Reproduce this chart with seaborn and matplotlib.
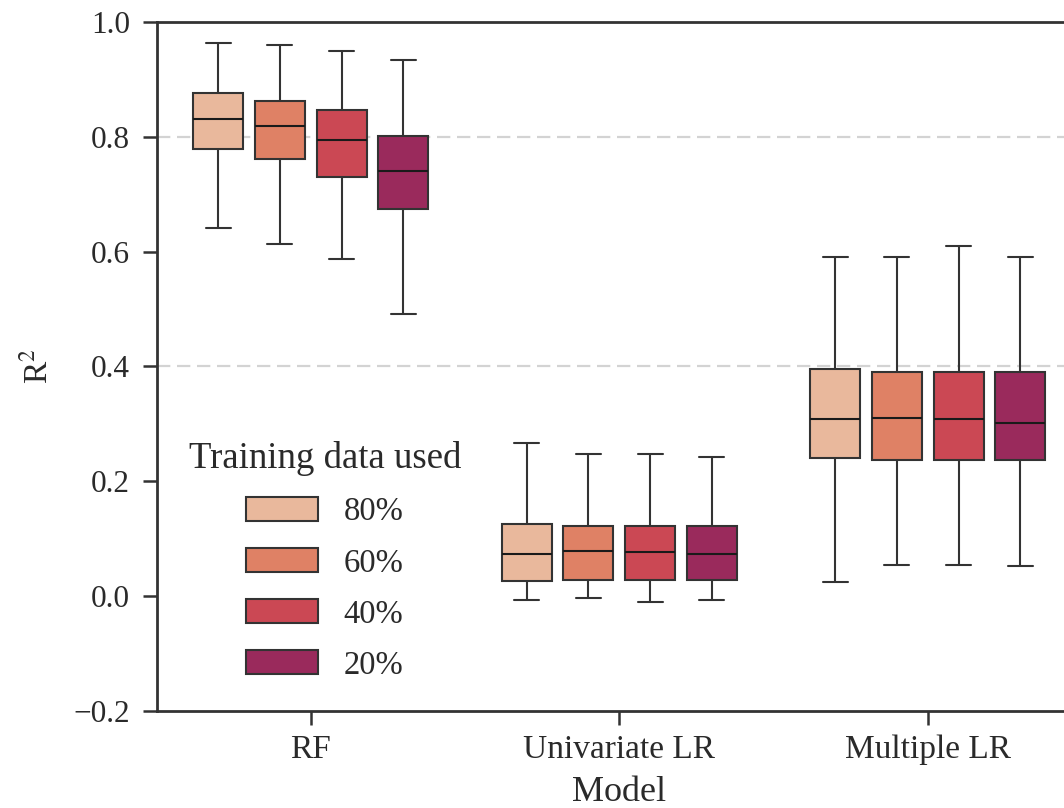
import numpy as np
import pandas as pd
import matplotlib
matplotlib.use("Agg")
import matplotlib.pyplot as plt
import seaborn as sns

models = ["RF", "Univariate LR", "Multiple LR"]
fractions = ["80%", "60%", "40%", "20%"]

# five-number summaries: [lower whisker, Q1, median, Q3, upper whisker]
rf_stats = [
    [0.642, 0.778, 0.831, 0.876, 0.963],
    [0.613, 0.762, 0.818, 0.863, 0.960],
    [0.587, 0.730, 0.795, 0.847, 0.950],
    [0.492, 0.674, 0.740, 0.801, 0.934],
]
ulr_stats = [
    [-0.007, 0.026, 0.074, 0.125, 0.267],
    [-0.003, 0.029, 0.078, 0.122, 0.247],
    [-0.010, 0.029, 0.077, 0.122, 0.247],
    [-0.007, 0.028, 0.074, 0.122, 0.243],
]
mlr_stats = [
    [0.025, 0.240, 0.308, 0.395, 0.590],
    [0.055, 0.237, 0.311, 0.391, 0.590],
    [0.055, 0.237, 0.308, 0.391, 0.610],
    [0.052, 0.237, 0.302, 0.391, 0.590],
]
ref_lines = [0.8, 0.4]

rows = []
for model, stats in zip(models, [rf_stats, ulr_stats, mlr_stats]):
    for frac, s in zip(fractions, stats):
        for v in s:
            rows.append({"Model": model, "Training data used": frac, "R2": v})
df = pd.DataFrame(rows)

sns.set_theme(style="ticks")
plt.rcParams["font.family"] = ["Liberation Serif", "DejaVu Serif"]
plt.rcParams["mathtext.fontset"] = "stix"

fig = plt.figure(figsize=(10.64, 8.08), dpi=100)
ax = fig.add_axes([156.5 / 1064, 97 / 808, 925.5 / 1064, 689 / 808])

for y in ref_lines:
    ax.axhline(y, color="#d3d3d3", linestyle=(0, (6, 3)), linewidth=1.6, zorder=0)

palette = sns.color_palette("rocket_r", 6)[:4]
sns.boxplot(data=df, x="Model", y="R2", hue="Training data used",
            order=models, hue_order=fractions, palette=palette,
            whis=(0, 100), showfliers=False, gap=0.19, width=0.8,
            linecolor="#333333", linewidth=1.5, ax=ax,
            medianprops={"color": "#1a1a1a"})

ax.set_xlim(-0.5, 2.5)
ax.set_ylim(-0.2, 1.0)
ax.set_yticks([-0.2, 0.0, 0.2, 0.4, 0.6, 0.8, 1.0])
ax.set_yticklabels(["\u22120.2", "0.0", "0.2", "0.4", "0.6", "0.8", "1.0"])
ax.set_ylabel("R$^2$", fontsize=24, labelpad=14)
ax.set_xlabel("Model", fontsize=26, labelpad=8)
ax.tick_params(axis="both", length=10, width=1.8, color="#333333",
               labelcolor="#2a2a2a")
ax.tick_params(axis="y", labelsize=22.5, pad=9)
ax.tick_params(axis="x", labelsize=24, pad=7)
for sp in ax.spines.values():
    sp.set_linewidth(2.0)
    sp.set_color("#333333")
ax.xaxis.label.set_color("#2a2a2a")
ax.yaxis.label.set_color("#2a2a2a")

leg = ax.legend(title="Training data used", loc="center",
                bbox_to_anchor=(325 / 1064, 1 - 561 / 808),
                bbox_transform=fig.transFigure, frameon=False, fontsize=23.5,
                title_fontsize=26.5, handlelength=2.18, handleheight=0.77,
                labelspacing=0.63, handletextpad=0.8, borderpad=0)
leg.get_title().set_color("#2a2a2a")
for t in leg.get_texts():
    t.set_color("#2a2a2a")

fig.savefig("out.png", dpi=100)
